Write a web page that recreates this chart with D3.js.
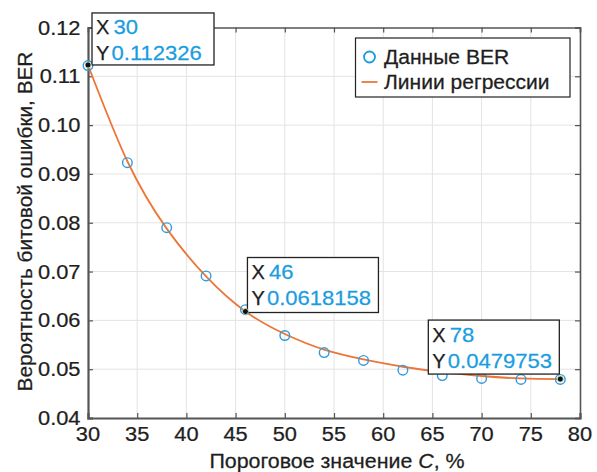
<!DOCTYPE html>
<html>
<head>
<meta charset="utf-8">
<script src="https://cdn.jsdelivr.net/npm/d3@7"></script>
<style>
  html, body { margin: 0; padding: 0; background: #fff; }
  svg { display: block; }
  text { font-family: "Liberation Sans", Arial, Helvetica, sans-serif; }
</style>
</head>
<body>
<svg id="chart" width="597" height="472"></svg>
<script>
// Threshold C (%) and measured bit error rate
const thresholds = [30, 34, 38, 42, 46, 50, 54, 58, 62, 66, 70, 74, 78];
const berValues  = [0.1122, 0.0923, 0.0790, 0.0691, 0.0622, 0.0569, 0.0534, 0.0518, 0.0498, 0.0487, 0.0481, 0.0479, 0.0479];
// Regression curve sampled at the same thresholds
const fitValues  = [0.112326, 0.0926, 0.0788, 0.0690, 0.0618158, 0.0572, 0.0540, 0.0520, 0.0505, 0.0494, 0.0486, 0.0481, 0.0479753];
// Data tips: index into the regression samples and their printed labels
const tipIndex   = [0, 4, 12];
const tipXLabels = ["30", "46", "78"];
const tipYLabels = ["0.112326", "0.0618158", "0.0479753"];
// Axis ticks
const xTicks = [30, 35, 40, 45, 50, 55, 60, 65, 70, 75, 80];
const yTicks = [0.04, 0.05, 0.06, 0.07, 0.08, 0.09, 0.10, 0.11, 0.12];
const yTickLabels = ["0.04", "0.05", "0.06", "0.07", "0.08", "0.09", "0.10", "0.11", "0.12"];
const legendLabels = ["Данные BER", "Линии регрессии"];

const svg = d3.select("#chart");
const plot = { left: 88, right: 580, top: 27.5, bottom: 418 };

const x = d3.scaleLinear().domain([30, 80]).range([plot.left, plot.right]);
const y = d3.scaleLinear().domain([0.04, 0.12]).range([plot.bottom, plot.top]);

const blue = "#339ade";
const tipBlue = "#1a9de0";
const orange = "#ec7538";
const axisColor = "#555";
const ink = "#1e1e1e";

// Text with a slight horizontal stretch
function label(g, px, py, str, opts) {
  const o = Object.assign({ size: 19.5, sx: 1.1, anchor: "start", fill: ink, rotate: 0 }, opts || {});
  return g.append("text")
    .attr("transform", `translate(${px},${py}) rotate(${o.rotate}) scale(${o.sx},1)`)
    .attr("font-size", o.size)
    .attr("text-anchor", o.anchor)
    .attr("fill", o.fill)
    .attr("stroke", o.fill)
    .attr("stroke-width", 0.25)
    .text(str);
}

// Grid
const grid = svg.append("g");
grid.selectAll("line.gx").data(xTicks.slice(1, -1)).join("line")
  .attr("x1", d => x(d)).attr("x2", d => x(d))
  .attr("y1", plot.top).attr("y2", plot.bottom)
  .attr("stroke", "#e3e3e3").attr("stroke-width", 1);
grid.selectAll("line.gy").data(yTicks.slice(1, -1)).join("line")
  .attr("x1", plot.left).attr("x2", plot.right)
  .attr("y1", d => y(d)).attr("y2", d => y(d))
  .attr("stroke", "#e3e3e3").attr("stroke-width", 1);

// Axes (inward ticks on all four sides)
const axB = svg.append("g").attr("transform", `translate(0,${plot.bottom})`)
  .call(d3.axisBottom(x).tickValues(xTicks).tickSize(-5).tickFormat(""));
const axT = svg.append("g").attr("transform", `translate(0,${plot.top})`)
  .call(d3.axisTop(x).tickValues(xTicks).tickSize(-5).tickFormat(""));
const axL = svg.append("g").attr("transform", `translate(${plot.left},0)`)
  .call(d3.axisLeft(y).tickValues(yTicks).tickSize(-5).tickFormat(""));
const axR = svg.append("g").attr("transform", `translate(${plot.right},0)`)
  .call(d3.axisRight(y).tickValues(yTicks).tickSize(-5).tickFormat(""));
[axB, axT, axL, axR].forEach(a => {
  a.selectAll("path.domain").attr("stroke", axisColor).attr("stroke-width", 1.6);
  a.selectAll(".tick line").attr("stroke", axisColor).attr("stroke-width", 1.2);
});
axL.select("path.domain").attr("stroke-width", 2.2);
axB.select("path.domain").attr("stroke-width", 2.2);

// Tick labels
const tl = svg.append("g");
xTicks.forEach(v => label(tl, x(v), 440.5, String(v), { anchor: "middle", sx: 1.12 }));
yTicks.forEach((v, i) => label(tl, 80.5, y(v) + 7, yTickLabels[i], { anchor: "end", sx: 1.12 }));

// Axis titles
const xt = svg.append("text")
  .attr("transform", `translate(337,467.5) scale(1.07,1)`)
  .attr("font-size", 20).attr("text-anchor", "middle")
  .attr("fill", ink).attr("stroke", ink).attr("stroke-width", 0.25);
xt.append("tspan").text("Пороговое значение ");
xt.append("tspan").attr("font-style", "italic").text("C");
xt.append("tspan").text(", %");
label(svg, 32, 221.5, "Вероятность битовой ошибки, BER",
  { size: 20, sx: 1.04, anchor: "middle", rotate: -90 });

// Regression curve
const line = d3.line()
  .x((d, i) => x(thresholds[i]))
  .y(d => y(d))
  .curve(d3.curveNatural);
svg.append("path")
  .datum(fitValues)
  .attr("d", line)
  .attr("fill", "none")
  .attr("stroke", orange)
  .attr("stroke-width", 1.8);

// Measured points
svg.append("g").selectAll("circle").data(berValues).join("circle")
  .attr("cx", (d, i) => x(thresholds[i]))
  .attr("cy", d => y(d))
  .attr("r", 4.8)
  .attr("fill", "none")
  .attr("stroke", blue)
  .attr("stroke-width", 1.4);

// Legend
const lg = svg.append("g");
lg.append("rect").attr("x", 355.5).attr("y", 38).attr("width", 214.5).attr("height", 59)
  .attr("fill", "#fff").attr("stroke", "#222").attr("stroke-width", 1.2);
lg.append("circle").attr("cx", 369.5).attr("cy", 57).attr("r", 5.5)
  .attr("fill", "none").attr("stroke", "#1a9be0").attr("stroke-width", 1.8);
lg.append("line").attr("x1", 361.5).attr("x2", 377.5).attr("y1", 82).attr("y2", 82)
  .attr("stroke", orange).attr("stroke-width", 1.8);
label(lg, 384, 64, legendLabels[0], { size: 19.5, sx: 1.08 });
label(lg, 384, 89, legendLabels[1], { size: 19.5, sx: 1.08 });

// Data tips
const tipBoxes = [
  { dx: 4, dy: -52, w: 122, h: 52 },
  { dx: 2, dy: -54, w: 131, h: 55 },
  { dx: -132, dy: -59, w: 131, h: 54 }
];
const tips = svg.append("g");
tipIndex.forEach((idx, k) => {
  const px = x(thresholds[idx]), py = y(fitValues[idx]);
  const b = tipBoxes[k];
  const bx = px + b.dx, by = py + b.dy;
  tips.append("rect").attr("x", bx).attr("y", by).attr("width", b.w).attr("height", b.h)
    .attr("fill", "#fff").attr("stroke", "#222").attr("stroke-width", 1.3);
  label(tips, bx + 4, by + 21.5, "X", { size: 20, sx: 1.0 });
  label(tips, bx + 21.5, by + 21.5, tipXLabels[k], { size: 21, sx: 1.05, fill: tipBlue });
  label(tips, bx + 4, by + 47.5, "Y", { size: 20, sx: 1.0 });
  label(tips, bx + 19.5, by + 47.5, tipYLabels[k], { size: 21, sx: 1.05, fill: tipBlue });
  tips.append("circle").attr("cx", px).attr("cy", py).attr("r", 3)
    .attr("fill", "#111").attr("stroke", "#d8e8c0").attr("stroke-width", 0.8);
});
</script>
</body>
</html>
